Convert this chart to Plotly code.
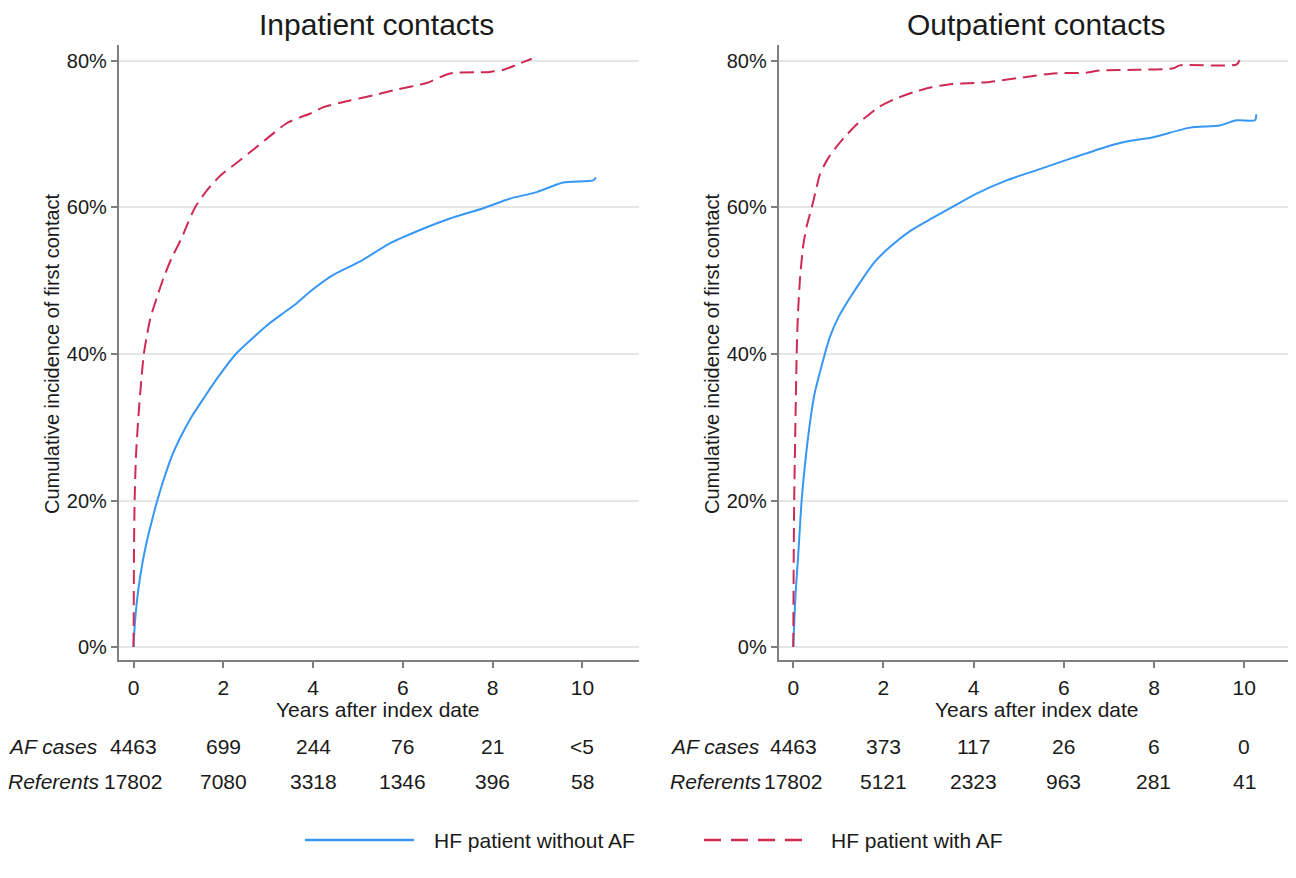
import plotly.graph_objects as go

# page is offset by the 8px body margin; figure sized so it ends at window edge
OFF = 8
W, H = 1296 - OFF, 878 - OFF

# ---------------- data ----------------
years_ticks = [0, 2, 4, 6, 8, 10]
pct_ticks = [0, 20, 40, 60, 80]
pct_labels = ["0%", "20%", "40%", "60%", "80%"]

# Inpatient contacts
in_noaf_x = [0, 0.03, 0.1, 0.2, 0.3, 0.4, 0.53, 0.68, 0.85, 1.06, 1.30, 1.59, 1.89, 2.28, 2.59,
             2.97, 3.34, 3.63, 3.93, 4.45, 5.04, 5.71, 6.45, 7.05, 7.79, 8.38, 8.98, 9.57,
             10.24, 10.3]
in_noaf_y = [0, 3.2, 7.5, 11.5, 14.5, 17, 20, 23, 26, 28.8, 31.5, 34.2, 36.9, 40, 41.8,
             43.9, 45.6, 46.9, 48.5, 50.8, 52.6, 55.1, 57.1, 58.5, 59.9, 61.2, 62.1, 63.4,
             63.7, 64.1]
in_af_x = [0, 0.005, 0.01, 0.025, 0.055, 0.11, 0.18, 0.23, 0.31, 0.38, 0.52, 0.67, 0.85, 1.07,
           1.22, 1.37, 1.63, 1.96, 2.30, 2.63, 2.97, 3.41, 3.71, 3.93, 4.23, 4.82, 5.34, 5.79,
           6.53, 7.05, 7.94, 8.24, 8.54, 8.87]
in_af_y = [0, 4.5, 12.6, 20, 26.1, 31.5, 36.9, 40, 42.9, 45, 47.7, 50.4, 53.1, 55.8,
           58, 60, 62.3, 64.5, 66.1, 67.7, 69.4, 71.5, 72.3, 72.8, 73.7, 74.6, 75.3, 76,
           77, 78.3, 78.5, 78.8, 79.5, 80.3]

# Outpatient contacts
out_noaf_x = [0, 0.05, 0.11, 0.185, 0.28, 0.39, 0.47, 0.70, 0.81, 1.0, 1.26, 1.55, 1.81, 2.18,
              2.62, 3.07, 3.51, 4.03, 4.73, 5.4, 6.21, 6.95, 7.39, 7.98, 8.8, 9.46, 9.83,
              10.24, 10.27]
out_noaf_y = [0, 7.2, 12.6, 20, 26.1, 31.5, 34.5, 40, 42.3, 45, 47.7, 50.4, 52.6, 54.8,
              56.9, 58.5, 60, 61.8, 63.7, 65.1, 66.8, 68.3, 69.0, 69.6, 70.9, 71.2, 71.9,
              71.9, 72.7]
out_af_x = [0, 0.01, 0.02, 0.05, 0.075, 0.10, 0.15, 0.22, 0.30, 0.41, 0.50, 0.59, 0.76, 0.96,
            1.18, 1.44, 1.66, 1.89, 2.25, 2.70, 3.07, 3.44, 4.03, 4.29, 5.03, 5.76, 6.5, 6.8,
            7.61, 8.43, 8.57, 9.83, 9.9]
out_af_y = [0, 12.6, 20, 31.5, 40, 45, 50.4, 54.8, 57.5, 60, 62.3, 64.5, 66.6, 68.3,
            69.9, 71.5, 72.6, 73.7, 74.8, 75.8, 76.4, 76.8, 77, 77.1, 77.7, 78.3, 78.4, 78.7,
            78.8, 79.0, 79.4, 79.5, 80.1]

# Numbers at risk
in_af_risk = ["4463", "699", "244", "76", "21", "&lt;5"]
in_ref_risk = ["17802", "7080", "3318", "1346", "396", "58"]
out_af_risk = ["4463", "373", "117", "26", "6", "0"]
out_ref_risk = ["17802", "5121", "2323", "963", "281", "41"]

panel_titles = ["Inpatient contacts", "Outpatient contacts"]
series_names = ["HF patient without AF", "HF patient with AF"]

# ---------------- styling ----------------
BLUE = "#3797f5"
RED = "#cf2a54"
FONT = "Liberation Sans, Arial, sans-serif"
TXT = "#1a1a1a"
AXC = "#7f7f7f"
GRID = "#e6e6e6"


def px_x(p):
    return (p - OFF) / W


def px_y(p):
    return 1 - (p - OFF) / H


fig = go.Figure()

panels = [
    ("x", "y", in_noaf_x, in_noaf_y, in_af_x, in_af_y),
    ("x2", "y2", out_noaf_x, out_noaf_y, out_af_x, out_af_y),
]
for xa, ya, bx, by, rx, ry in panels:
    fig.add_trace(go.Scatter(x=bx, y=by, mode="lines", xaxis=xa, yaxis=ya,
                             line=dict(color=BLUE, width=2, shape="spline", smoothing=0.6),
                             showlegend=False, name=series_names[0]))
    fig.add_trace(go.Scatter(x=rx, y=ry, mode="lines", xaxis=xa, yaxis=ya,
                             line=dict(color=RED, width=2, dash="14px,7px", shape="spline",
                                       smoothing=0.6),
                             showlegend=False, name=series_names[1]))

common_x = dict(tickvals=years_ticks, ticks="outside", ticklen=6, tickwidth=1.5, tickcolor=AXC,
                showline=True, linecolor=AXC, linewidth=1.5, showgrid=False, zeroline=False,
                tickfont=dict(family=FONT, size=21, color=TXT), ticklabelstandoff=2)
common_y = dict(tickvals=pct_ticks, ticktext=pct_labels, ticks="outside", ticklen=6,
                tickwidth=1.5, tickcolor=AXC, showline=True, linecolor=AXC, linewidth=1.5,
                showgrid=True, gridcolor=GRID, gridwidth=1.5, zeroline=False,
                tickfont=dict(family=FONT, size=20, color=TXT),
                range=[-1.77, 82.18], domain=[px_y(660), px_y(45)])

fig.update_layout(
    width=W, height=H, autosize=False,
    margin=dict(l=0, r=0, t=0, b=0),
    paper_bgcolor="white", plot_bgcolor="white",
    font=dict(family=FONT, color=TXT),
    xaxis=dict(domain=[px_x(118.6), px_x(639)], range=[-0.332, 11.26], anchor="y", **common_x),
    yaxis=dict(anchor="x", **common_y),
    xaxis2=dict(domain=[px_x(778.5), 1.0], range=[-0.328, 11.15], anchor="y2", **common_x),
    yaxis2=dict(anchor="x2", **common_y),
)

ann = []
# panel titles
for title, cx in zip(panel_titles, [376, 1036.5]):
    ann.append(dict(text=title, x=px_x(cx), y=px_y(25), xref="paper", yref="paper",
                    xanchor="center", yanchor="middle", showarrow=False,
                    font=dict(size=30, family=FONT, color=TXT)))
# y-axis titles
for cx in [52, 712]:
    ann.append(dict(text="Cumulative incidence of first contact", x=px_x(cx), y=px_y(354),
                    xref="paper", yref="paper", xanchor="center", yanchor="middle",
                    textangle=-90, showarrow=False, font=dict(size=20, family=FONT, color=TXT)))
# x-axis titles
for cx in [378, 1036.5]:
    ann.append(dict(text="Years after index date", x=px_x(cx), y=px_y(709), xref="paper",
                    yref="paper", xanchor="center", yanchor="middle", showarrow=False,
                    font=dict(size=21, family=FONT, color=TXT)))
# risk table
rows_y = [746.5, 781]
for xref, lx, af_r, ref_r in [("x", 6, in_af_risk, in_ref_risk),
                              ("x2", 668, out_af_risk, out_ref_risk)]:
    for label, vals, ry in [("AF cases", af_r, rows_y[0]), ("Referents", ref_r, rows_y[1])]:
        ann.append(dict(text="<i>" + label + "</i>", x=px_x(lx), y=px_y(ry), xref="paper",
                        yref="paper", xanchor="left", yanchor="middle", showarrow=False,
                        font=dict(size=21, family=FONT, color=TXT)))
        for t, v in zip(years_ticks, vals):
            ann.append(dict(text=v, x=t, y=px_y(ry), xref=xref, yref="paper",
                            xanchor="center", yanchor="middle", showarrow=False,
                            font=dict(size=21, family=FONT, color=TXT)))
# legend
leg_y = 840
ann.append(dict(text=series_names[0], x=px_x(432), y=px_y(leg_y), xref="paper", yref="paper",
                xanchor="left", yanchor="middle", showarrow=False,
                font=dict(size=21, family=FONT, color=TXT)))
ann.append(dict(text=series_names[1], x=px_x(829), y=px_y(leg_y), xref="paper", yref="paper",
                xanchor="left", yanchor="middle", showarrow=False,
                font=dict(size=21, family=FONT, color=TXT)))
fig.update_layout(annotations=ann)

fig.add_shape(type="line", xref="paper", yref="paper", x0=px_x(305), x1=px_x(414),
              y0=px_y(leg_y), y1=px_y(leg_y), line=dict(color=BLUE, width=2.5))
fig.add_shape(type="line", xref="paper", yref="paper", x0=px_x(704), x1=px_x(812),
              y0=px_y(leg_y), y1=px_y(leg_y), line=dict(color=RED, width=2.5, dash="17px,10px"))

fig.write_html("out.html")
